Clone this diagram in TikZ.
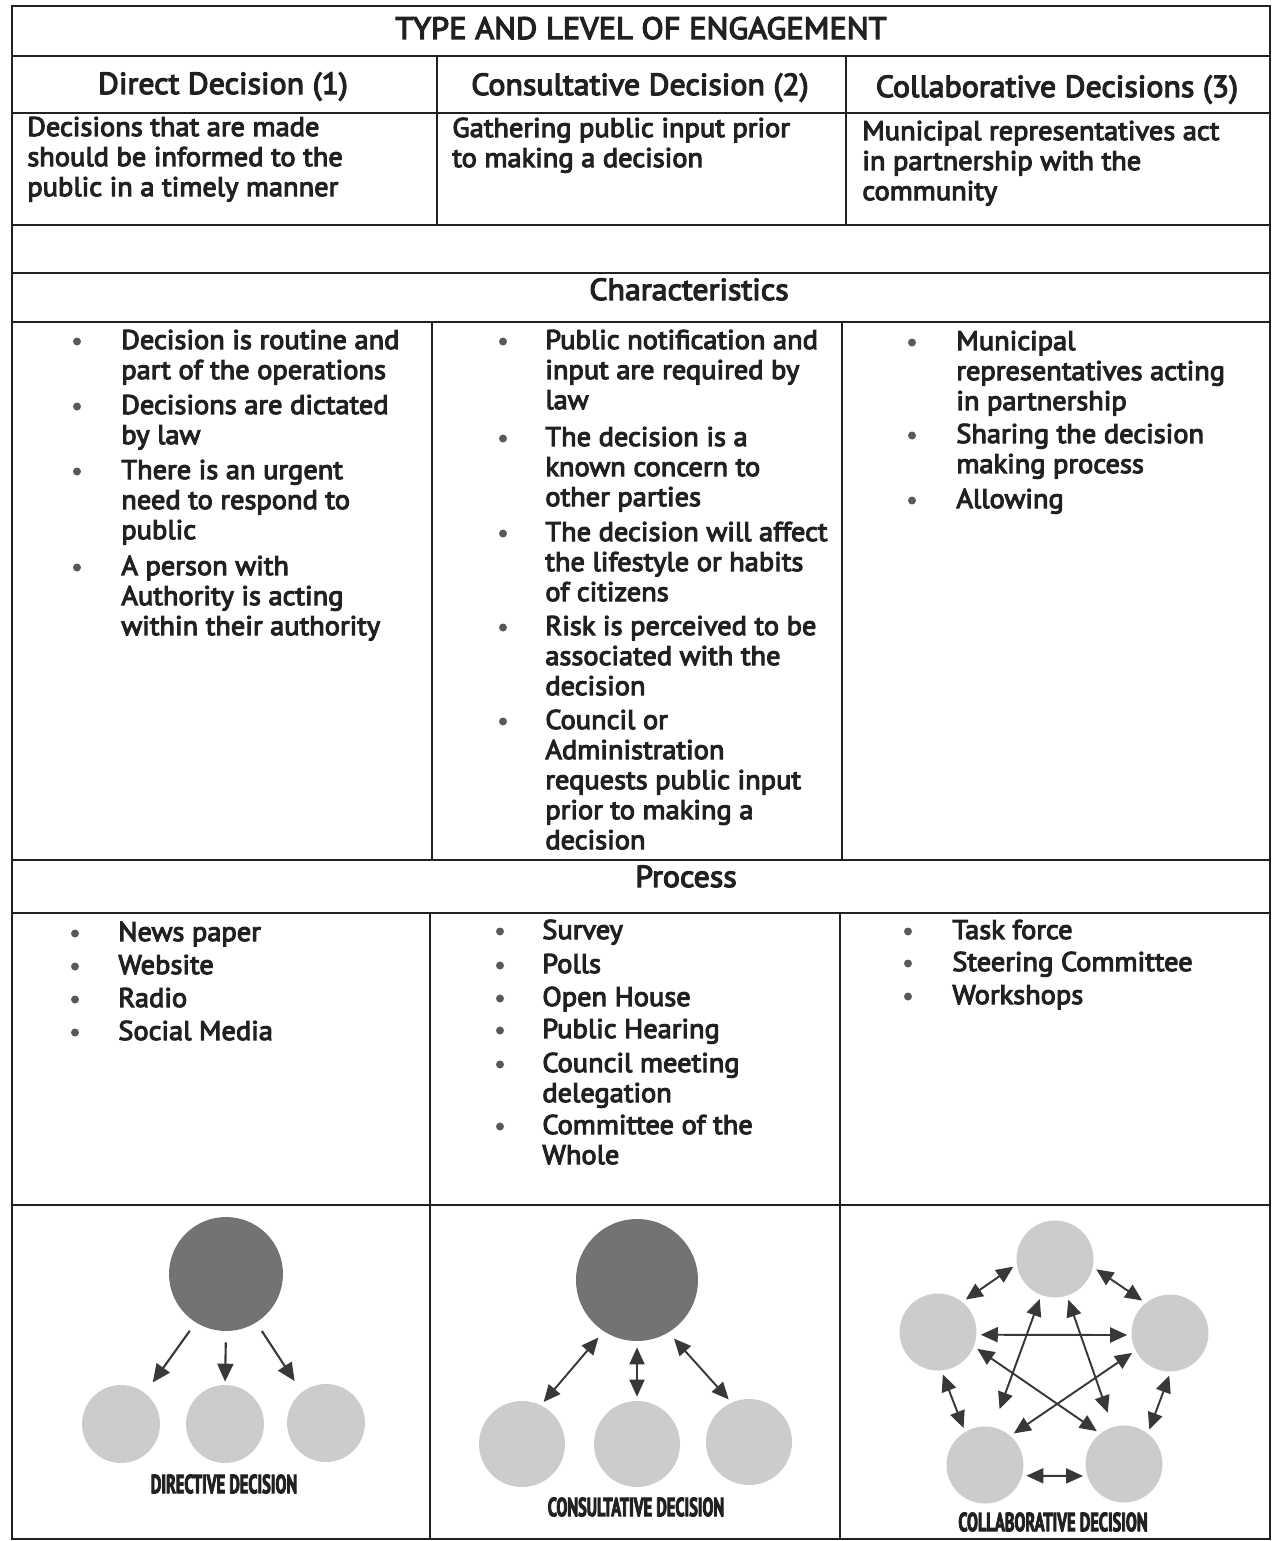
\documentclass[tikz,border=0pt]{standalone}
\usepackage{fontspec}
\setmainfont{PT Sans}[FakeStretch=1.05, FakeBold=4]
\newfontfamily\tagfont{PT Sans}[FakeStretch=0.62, FakeBold=3]
\usetikzlibrary{arrows.meta}
\definecolor{ink}{gray}{0.13}
\definecolor{darkdisc}{gray}{0.45}
\definecolor{lightdisc}{gray}{0.80}
\definecolor{arrowgray}{gray}{0.22}
\definecolor{dotgray}{gray}{0.35}
\newcommand{\bodysize}{\fontsize{15.4}{17.1}\selectfont}
\newcommand{\cell}[1]{\begin{tabular}[t]{@{}l@{}}#1\end{tabular}}
% #1 name, #2 bullet x, #3 text x, #4 baseline/lines
\newcommand{\bulletcol}[4]{
  \foreach[count=\i] \y/\txt in {#4} {
    \fill[dotgray] (#2,\y-7.5) circle (0.08cm);
    \node[entry] (#1-\i) at (#3,\y) {\cell{\txt}};
  }
}
\tikzset{
  rule/.style={line width=0.9pt, draw=ink},
  entry/.style={anchor=base west, inner sep=0pt, font=\bodysize, text=ink},
  head/.style={anchor=base, inner sep=0pt, font=\fontsize{17.3}{19}\selectfont, text=ink},
  tag/.style={inner sep=0pt, font=\tagfont\bfseries\fontsize{15}{16}\selectfont, text=ink},
  bigdisc/.style={circle, fill=darkdisc, inner sep=0pt},
  smalldisc/.style={circle, fill=lightdisc, inner sep=0pt},
  oneway/.style={-{Triangle[length=0.36cm,width=0.32cm]}, line width=1.2pt, draw=arrowgray},
  twoway/.style={{Triangle[length=0.34cm,width=0.3cm]}-{Triangle[length=0.34cm,width=0.3cm]},
    line width=1.1pt, draw=arrowgray, shorten <=0.08cm, shorten >=0.08cm},
}

\begin{document}
\begin{tikzpicture}[x=0.02cm, y=-0.02cm]
  \useasboundingbox (0,0) rectangle (1274,1541);

  % table rules
  \draw[rule] (12,6) rectangle (1270,1539);
  \draw[line width=1.6pt, draw=ink] (12,56) -- (1270,56);
  \foreach \y in {113,225,273,322,860,913,1205}
    \draw[rule] (12,\y) -- (1270,\y);
  \draw[rule] (437,56) -- (437,225) (846,56) -- (846,225);
  \draw[rule] (432,322) -- (432,860) (842,322) -- (842,860);
  \draw[rule] (430,913) -- (430,1539) (840,913) -- (840,1539);

  % headings
  \node[head, font=\fontsize{17.6}{19}\selectfont] (title) at (641,39) {TYPE AND LEVEL OF ENGAGEMENT};
  \node[head] (direct) at (223,94) {Direct Decision (1)};
  \node[head] (consult) at (640,95) {Consultative Decision (2)};
  \node[head] (collab) at (1057,97) {Collaborative Decisions (3)};

  \node[entry] (desc1) at (27,136) {\cell{Decisions that are made\\should be informed to the\\public in a timely manner}};
  \node[entry] (desc2) at (452,137) {\cell{Gathering public input prior\\to making a decision}};
  \node[entry] (desc3) at (862,140) {\cell{Municipal representatives act\\in partnership with the\\community}};

  \node[head] (charac) at (689,300) {Characteristics};
  \node[head] (process) at (686,887) {Process};

  % characteristics
  \bulletcol{ch1}{77}{121}{349/{Decision is routine and\\part of the operations},
    414/{Decisions are dictated\\by law},
    479/{There is an urgent\\need to respond to\\public},
    575/{A person with\\Authority is acting\\within their authority}}
  \bulletcol{ch2}{503}{545}{349/{Public notification and\\input are required by\\law},
    446/{The decision is a\\known concern to\\other parties},
    541/{The decision will affect\\the lifestyle or habits\\of citizens},
    635/{Risk is perceived to be\\associated with the\\decision},
    729/{Council or\\Administration\\requests public input\\prior to making a\\decision}}
  \bulletcol{ch3}{912}{956}{350/{Municipal\\representatives acting\\in partnership},
    443/{Sharing the decision\\making process},
    508/{Allowing}}

  % process
  \bulletcol{pr1}{75}{118}{941/{News paper},974/{Website},1007/{Radio},1040/{Social Media}}
  \bulletcol{pr2}{500}{542}{939/{Survey},973/{Polls},1006/{Open House},1038/{Public Hearing},
    1072/{Council meeting\\delegation},1134/{Committee of the\\Whole}}
  \bulletcol{pr3}{908}{952}{939/{Task force},971/{Steering Committee},1004/{Workshops}}

  % directive
  \node[bigdisc, minimum size=2.28cm] (boss1) at (226,1274) {};
  \node[smalldisc, minimum size=1.56cm] (a1) at (121,1424) {};
  \node[smalldisc, minimum size=1.56cm] (b1) at (225,1424) {};
  \node[smalldisc, minimum size=1.56cm] (c1) at (326,1423) {};
  \draw[oneway, shorten <=0.2cm, shorten >=0.26cm] (boss1.238) -- (a1.52);
  \draw[oneway, shorten <=0.22cm, shorten >=0.06cm] (boss1.south) -- (b1.north);
  \draw[oneway, shorten <=0.2cm, shorten >=0.26cm] (boss1.302) -- (c1.128);
  \node[tag] (lbl1) at (224,1484) {DIRECTIVE DECISION};

  % consultative
  \node[bigdisc, minimum size=2.44cm] (boss2) at (637,1280) {};
  \node[smalldisc, minimum size=1.72cm] (a2) at (522,1444) {};
  \node[smalldisc, minimum size=1.72cm] (b2) at (637,1444) {};
  \node[smalldisc, minimum size=1.72cm] (c2) at (749,1442) {};
  \draw[twoway, shorten <=0.16cm] (boss2.237) -- (a2.64);
  \draw[twoway, shorten <=0.12cm] (boss2.south) -- (b2.north);
  \draw[twoway, shorten <=0.16cm] (boss2.301) -- (c2.114);
  \node[tag] (lbl2) at (636,1507) {CONSULTATIVE DECISION};

  % collaborative
  \foreach \n/\x/\y in {p1/1055/1259,p2/938/1332,p3/1170/1333,p4/985/1465,p5/1124/1464}
    \node[smalldisc, minimum size=1.54cm] (\n) at (\x,\y) {};
  \foreach \a/\b in {p1.188/p2.51,p1.348/p3.129,p2.356/p3.183,p2.338/p5.128,
      p3.207/p4.49,p2.275/p4.121,p3.271/p5.52,p4.344/p5.198}
    \draw[twoway] (\a) -- (\b);
  \draw[twoway, shorten >=0.38cm] (p1.249) -- (p4.78);
  \draw[twoway, shorten >=0.3cm] (p1.288) -- (p5.107);
  \node[tag] (lbl3) at (1053,1522) {COLLABORATIVE DECISION};
\end{tikzpicture}
\end{document}
